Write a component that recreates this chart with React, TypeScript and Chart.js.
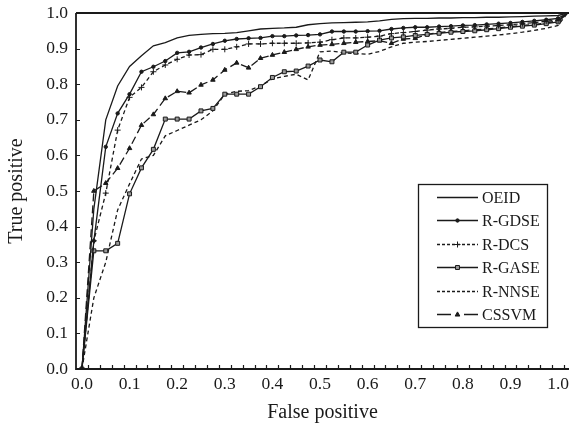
import React, { useEffect, useRef } from 'react';
import { Chart, registerables } from 'chart.js';

Chart.register(...registerables);

// ---- data ----
const fpr = [
  0, 0.025, 0.05, 0.075, 0.1, 0.125, 0.15, 0.175, 0.2, 0.225,
  0.25, 0.275, 0.3, 0.325, 0.35, 0.375, 0.4, 0.425, 0.45, 0.475,
  0.5, 0.525, 0.55, 0.575, 0.6, 0.625, 0.65, 0.675, 0.7, 0.725,
  0.75, 0.775, 0.8, 0.825, 0.85, 0.875, 0.9, 0.925, 0.95, 0.975,
  1.0, 1.02,
];

const oeid = [
  0, 0.45, 0.70, 0.795, 0.85, 0.88, 0.908, 0.917, 0.93, 0.937,
  0.94, 0.942, 0.943, 0.945, 0.95, 0.955, 0.957, 0.958, 0.96, 0.967,
  0.97, 0.972, 0.973, 0.974, 0.975, 0.978, 0.982, 0.984, 0.985, 0.985,
  0.986, 0.986, 0.987, 0.987, 0.988, 0.988, 0.989, 0.99, 0.991, 0.992,
  0.993, 1.0,
];
const rGdse = [
  0, 0.36, 0.624, 0.718, 0.772, 0.835, 0.849, 0.865, 0.888, 0.891,
  0.903, 0.913, 0.922, 0.927, 0.929, 0.93, 0.935, 0.935, 0.937, 0.938,
  0.94, 0.948, 0.948, 0.948, 0.949, 0.95, 0.955, 0.958, 0.96, 0.96,
  0.962, 0.963, 0.965, 0.966, 0.968, 0.97, 0.972, 0.975, 0.978, 0.981,
  0.985, 1.0,
];
const rDcs = [
  0, 0.36, 0.494, 0.671, 0.763, 0.791, 0.835, 0.854, 0.87, 0.882,
  0.883, 0.898, 0.898, 0.905, 0.913, 0.913, 0.915, 0.915, 0.915, 0.916,
  0.918, 0.925, 0.93, 0.93, 0.932, 0.935, 0.942, 0.945, 0.948, 0.952,
  0.955, 0.957, 0.96, 0.961, 0.963, 0.965, 0.967, 0.97, 0.973, 0.977,
  0.98, 1.0,
];
const rGase = [
  0, 0.332, 0.332, 0.353, 0.492, 0.565, 0.617, 0.702, 0.702, 0.702,
  0.725, 0.732, 0.772, 0.772, 0.772, 0.793, 0.819, 0.835, 0.837, 0.851,
  0.868, 0.863, 0.89, 0.89, 0.91, 0.924, 0.93, 0.933, 0.937, 0.94,
  0.943, 0.946, 0.948, 0.95, 0.953, 0.956, 0.96, 0.963, 0.966, 0.97,
  0.975, 1.0,
];
const rNnse = [
  0, 0.2, 0.3, 0.447, 0.52, 0.59, 0.6, 0.655, 0.67, 0.685,
  0.70, 0.725, 0.772, 0.78, 0.782, 0.795, 0.815, 0.822, 0.828, 0.812,
  0.891, 0.893, 0.888, 0.886, 0.884, 0.892, 0.905, 0.915, 0.918, 0.92,
  0.923, 0.926, 0.929, 0.932, 0.935, 0.938, 0.942, 0.946, 0.951, 0.957,
  0.965, 1.0,
];
const cssvm = [
  0, 0.5, 0.522, 0.564, 0.62, 0.685, 0.715, 0.76, 0.78, 0.776,
  0.798, 0.812, 0.84, 0.86, 0.846, 0.873, 0.882, 0.89, 0.898, 0.905,
  0.91, 0.912, 0.915, 0.918, 0.92, 0.922, 0.915, 0.927, 0.929, 0.94,
  0.945, 0.948, 0.95, 0.953, 0.955, 0.958, 0.962, 0.965, 0.968, 0.972,
  0.978, 1.0,
];

const seriesNames = ['OEID', 'R-GDSE', 'R-DCS', 'R-GASE', 'R-NNSE', 'CSSVM'];
const seriesValues = [oeid, rGdse, rDcs, rGase, rNnse, cssvm];

const xTickLabels = [0, 0.1, 0.2, 0.3, 0.4, 0.5, 0.6, 0.7, 0.8, 0.9, 1.0];
const yTickLabels = [0, 0.1, 0.2, 0.3, 0.4, 0.5, 0.6, 0.7, 0.8, 0.9, 1.0];

// ---- styling ----
const FONT = "'Liberation Serif', 'Times New Roman', Times, serif";
const INK = '#1a1a1a';

type Style = {
  dash: number[];
  legendDash: number[];
  marker: 'none' | 'circle' | 'cross' | 'rect' | 'triangle';
  radius: number;
  fill: string;
};
const styles: Style[] = [
  { dash: [], legendDash: [], marker: 'none', radius: 0, fill: INK },
  { dash: [], legendDash: [], marker: 'circle', radius: 1.7, fill: INK },
  { dash: [4, 3], legendDash: [3, 2], marker: 'cross', radius: 3, fill: INK },
  { dash: [], legendDash: [], marker: 'rect', radius: 2.8, fill: '#9a9a9a' },
  { dash: [4, 3], legendDash: [3, 2], marker: 'none', radius: 0, fill: INK },
  { dash: [8, 4], legendDash: [14, 13], marker: 'triangle', radius: 2.6, fill: INK },
];

function drawMarker(ctx: CanvasRenderingContext2D, s: Style, x: number, y: number) {
  if (s.marker === 'none') return;
  ctx.save();
  ctx.setLineDash([]);
  ctx.lineWidth = 1;
  ctx.strokeStyle = INK;
  ctx.fillStyle = s.fill;
  const r = s.radius;
  ctx.beginPath();
  if (s.marker === 'circle') {
    ctx.arc(x, y, r, 0, Math.PI * 2);
    ctx.fill();
    ctx.stroke();
  } else if (s.marker === 'cross') {
    ctx.moveTo(x - r, y);
    ctx.lineTo(x + r, y);
    ctx.moveTo(x, y - r);
    ctx.lineTo(x, y + r);
    ctx.stroke();
  } else if (s.marker === 'rect') {
    const h = r / Math.SQRT2;
    ctx.rect(x - h, y - h, 2 * h, 2 * h);
    ctx.fill();
    ctx.stroke();
  } else if (s.marker === 'triangle') {
    ctx.moveTo(x, y - r);
    ctx.lineTo(x + r * 0.9, y + r * 0.6);
    ctx.lineTo(x - r * 0.9, y + r * 0.6);
    ctx.closePath();
    ctx.fill();
    ctx.stroke();
  }
  ctx.restore();
}

const framePlugin = {
  id: 'frame',
  afterDatasetsDraw(chart: any) {
    const { ctx, chartArea } = chart;
    const { left, right, top, bottom } = chartArea;
    const xs = chart.scales.x;
    const ys = chart.scales.y;
    ctx.save();
    ctx.strokeStyle = INK;
    ctx.setLineDash([]);
    ctx.lineWidth = 1.8;
    ctx.beginPath();
    ctx.moveTo(left, top);
    ctx.lineTo(right, top);
    ctx.moveTo(left, top);
    ctx.lineTo(left, bottom);
    ctx.lineTo(right, bottom);
    ctx.stroke();
    ctx.lineWidth = 1.2;
    ctx.beginPath();
    for (const v of yTickLabels) {
      if (v <= 0 || v >= 1) continue;
      const py = Math.round(ys.getPixelForValue(v)) + 0.5;
      ctx.moveTo(left, py);
      ctx.lineTo(left + 4, py);
    }
    for (let j = 1; j < 45; j++) {
      const v = -0.0125 + 0.025 * j;
      const px = Math.round(xs.getPixelForValue(v)) + 0.5;
      if (px > right) break;
      ctx.moveTo(px, bottom);
      ctx.lineTo(px, bottom - 4);
    }
    ctx.stroke();
    ctx.restore();
  },
};

const legendPlugin = {
  id: 'boxLegend',
  afterDraw(chart: any) {
    const ctx: CanvasRenderingContext2D = chart.ctx;
    const bx = 418, by = 184, bw = 129, bh = 143;
    ctx.save();
    ctx.fillStyle = '#fff';
    ctx.fillRect(bx, by, bw, bh);
    ctx.strokeStyle = INK;
    ctx.lineWidth = 1.3;
    ctx.setLineDash([]);
    ctx.strokeRect(bx + 0.5, by + 0.5, bw, bh);
    ctx.font = `16px ${FONT}`;
    ctx.textBaseline = 'middle';
    ctx.textAlign = 'left';
    seriesNames.forEach((name, i) => {
      const s = styles[i];
      const y = Math.round(197 + 23.4 * i) + 0.5;
      ctx.strokeStyle = INK;
      ctx.lineWidth = 1.3;
      ctx.setLineDash(s.legendDash);
      ctx.beginPath();
      ctx.moveTo(437, y);
      ctx.lineTo(478, y);
      ctx.stroke();
      ctx.setLineDash([]);
      drawMarker(ctx, s, 457.5, y);
      ctx.fillStyle = INK;
      ctx.fillText(name, 482, y + 1);
    });
    ctx.restore();
  },
};

export default function App() {
  const ref = useRef<HTMLCanvasElement>(null);

  useEffect(() => {
    const canvas = ref.current;
    if (!canvas) return;
    const n = fpr.length;
    const datasets = seriesNames.map((name, i) => {
      const s = styles[i];
      const values = seriesValues[i];
      return {
        label: name,
        data: fpr.map((x, k) => ({ x, y: values[k] })),
        borderColor: INK,
        borderWidth: 1.3,
        borderDash: s.dash,
        fill: false,
        tension: 0,
        pointStyle: s.marker === 'none' ? 'circle' : s.marker === 'rect' ? 'rect' : s.marker,
        pointRadius: (c: any) => (s.marker === 'none' || c.dataIndex === n - 1 ? 0 : s.radius),
        pointHoverRadius: 0,
        pointBorderWidth: 1,
        pointBorderColor: INK,
        pointBackgroundColor: s.fill,
      };
    });

    const chart = new Chart(canvas, {
      type: 'line',
      data: { datasets: datasets as any },
      options: {
        animation: false,
        responsive: false,
        events: [],
        layout: { padding: { top: 13, left: 0, right: 0, bottom: 0 } },
        plugins: { legend: { display: false }, tooltip: { enabled: false } },
        scales: {
          x: {
            type: 'linear',
            min: -0.0125,
            max: 1.0229,
            grid: { display: false, drawTicks: false },
            border: { display: false },
            afterBuildTicks: (s: any) => {
              s.ticks = xTickLabels.map((v) => ({ value: v }));
            },
            afterFit: (s: any) => {
              s.height = 59;
              s.paddingLeft = 0;
              s.paddingRight = 0;
            },
            ticks: {
              autoSkip: false,
              maxRotation: 0,
              minRotation: 0,
              padding: 5,
              color: INK,
              font: { family: FONT, size: 17.5 },
              callback: (v: any) => Number(v).toFixed(1),
            },
            title: {
              display: true,
              text: 'False positive',
              color: INK,
              font: { family: FONT, size: 20 },
              padding: { top: 0, bottom: 3 },
            },
          },
          y: {
            type: 'linear',
            min: 0,
            max: 1,
            grid: { display: false, drawTicks: false },
            border: { display: false },
            afterBuildTicks: (s: any) => {
              s.ticks = yTickLabels.map((v) => ({ value: v }));
            },
            afterFit: (s: any) => {
              s.width = 76;
              s.paddingTop = 0;
              s.paddingBottom = 0;
            },
            ticks: {
              autoSkip: false,
              padding: 8,
              color: INK,
              font: { family: FONT, size: 17.5 },
              callback: (v: any) => Number(v).toFixed(1),
            },
            title: {
              display: true,
              text: 'True positive',
              color: INK,
              font: { family: FONT, size: 20 },
              padding: { top: 5, bottom: 0 },
            },
          },
        },
      },
      plugins: [framePlugin, legendPlugin],
    });
    return () => chart.destroy();
  }, []);

  return (
    <div
      style={{
        position: 'absolute',
        left: 0,
        top: 0,
        width: 573,
        height: 428,
        overflow: 'hidden',
        background: '#fff',
      }}
    >
      <canvas ref={ref} width={573} height={428} style={{ display: 'block' }} />
    </div>
  );
}
